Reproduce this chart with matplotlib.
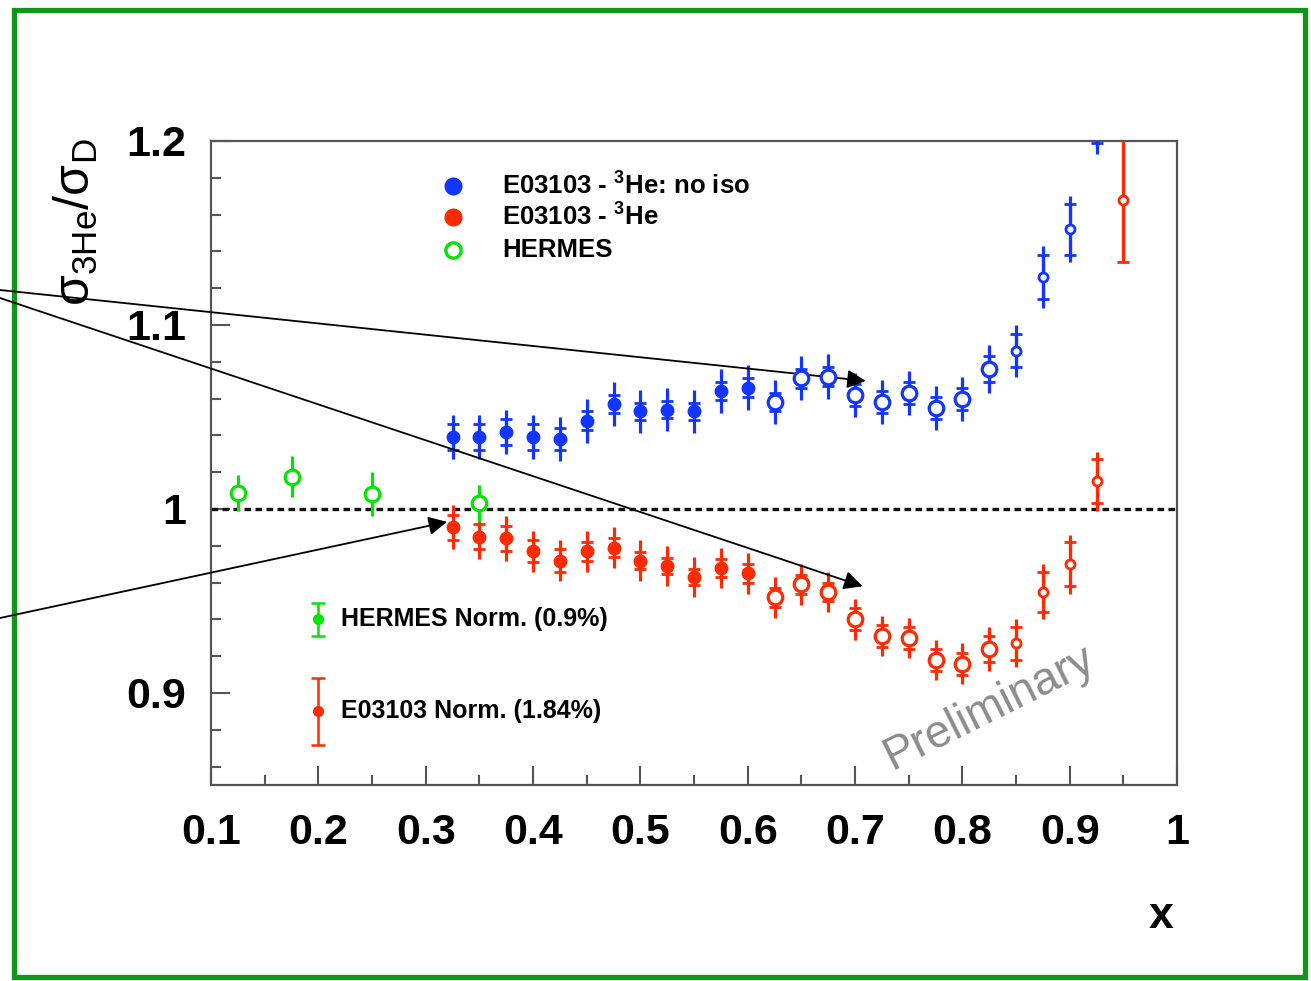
"""3He/D cross-section ratio vs x: E03103 (with and without isoscalar correction) and HERMES."""

import matplotlib
matplotlib.use("Agg")
import matplotlib.pyplot as plt
import numpy as np
from matplotlib.patches import Rectangle
from matplotlib.ticker import MultipleLocator

plt.rcParams["font.family"] = ["Liberation Sans", "DejaVu Sans"]
plt.rcParams["mathtext.default"] = "regular"

# --- data ---
x_e03103 = [0.325, 0.35, 0.375, 0.40, 0.425, 0.45, 0.475, 0.50, 0.525, 0.55, 0.575, 0.60, 0.625,
            0.65, 0.675, 0.70, 0.725, 0.75, 0.775, 0.80, 0.825, 0.85, 0.875, 0.90, 0.925, 0.95]

noiso_y = [1.039, 1.039, 1.042, 1.039, 1.038, 1.048, 1.057, 1.053, 1.054, 1.053, 1.064, 1.066, 1.058,
           1.071, 1.072, 1.062, 1.058, 1.063, 1.055, 1.060, 1.076, 1.086, 1.126, 1.152, 1.212]
noiso_stat = [0.007, 0.007, 0.007, 0.007, 0.006, 0.005, 0.005, 0.0045, 0.0045, 0.0045, 0.005, 0.005, 0.005,
              0.005, 0.005, 0.006, 0.006, 0.006, 0.006, 0.006, 0.007, 0.009, 0.012, 0.014, 0.013]
noiso_tot = [0.012, 0.012, 0.012, 0.012, 0.012, 0.012, 0.012, 0.0115, 0.0115, 0.0115, 0.012, 0.012, 0.012,
             0.012, 0.012, 0.012, 0.012, 0.012, 0.012, 0.012, 0.013, 0.014, 0.017, 0.018, 0.019]

he3_y = [0.990, 0.985, 0.984, 0.977, 0.972, 0.977, 0.979, 0.972, 0.969, 0.963, 0.968, 0.965, 0.952,
         0.959, 0.955, 0.940, 0.931, 0.930, 0.918, 0.916, 0.924, 0.927, 0.955, 0.970, 1.015, 1.168]
he3_stat = [0.007, 0.007, 0.007, 0.006, 0.006, 0.005, 0.005, 0.0045, 0.0045, 0.0045, 0.005, 0.005, 0.005,
            0.005, 0.005, 0.006, 0.006, 0.006, 0.006, 0.006, 0.007, 0.009, 0.011, 0.012, 0.012, 0.034]
he3_tot = [0.012, 0.012, 0.012, 0.011, 0.011, 0.011, 0.011, 0.011, 0.011, 0.011, 0.011, 0.011, 0.011,
           0.011, 0.011, 0.011, 0.011, 0.011, 0.011, 0.011, 0.012, 0.013, 0.015, 0.016, 0.016, 0.034]

hermes_x = [0.125, 0.175, 0.25, 0.35]
hermes_y = [1.0087, 1.0176, 1.008, 1.003]
hermes_err = [0.010, 0.011, 0.012, 0.010]

norm_x = 0.2
norm_y = [0.940, 0.890]
norm_err = [0.009, 0.0184]
norm_labels = ["HERMES Norm. (0.9%)", "E03103 Norm. (1.84%)"]

legend_labels = ["E03103 - $^{3}$He: no iso", "E03103 - $^{3}$He", "HERMES"]

xticks = [0.1, 0.2, 0.3, 0.4, 0.5, 0.6, 0.7, 0.8, 0.9, 1.0]
xtick_labels = ["0.1", "0.2", "0.3", "0.4", "0.5", "0.6", "0.7", "0.8", "0.9", "1"]
yticks = [0.9, 1.0, 1.1, 1.2]
ytick_labels = ["0.9", "1", "1.1", "1.2"]

BLUE = "#1236ff"
RED = "#ff2a00"
GREEN = "#00e600"


def draw_series(ax, x, y, stat, tot, color):
    x = np.asarray(x[:len(y)])
    y = np.asarray(y)
    ax.errorbar(x, y, yerr=tot, fmt="none", ecolor=color, elinewidth=2.3, zorder=3)
    ax.errorbar(x, y, yerr=stat, fmt="none", ecolor=color, elinewidth=2.3,
                capsize=4.3, capthick=2.0, zorder=3)
    filled = x <= 0.6
    big = (x > 0.6) & (x < 0.84)
    small = x >= 0.84
    ax.plot(x[filled], y[filled], "o", ms=9, color=color, zorder=4)
    ax.plot(x[big], y[big], "o", ms=10.5, mfc="white", mec=color, mew=2.3, zorder=4)
    ax.plot(x[small], y[small], "o", ms=6.5, mfc="white", mec=color, mew=2.0, zorder=4)


fig = plt.figure(figsize=(13.11, 9.81), dpi=100)
ax = fig.add_axes([211 / 1311, 1 - 785 / 981, 966 / 1311, 644 / 981])
ax.set_xlim(0.1, 1.0)
ax.set_ylim(0.85, 1.2)

ax.axhline(1.0, color="#111111", lw=2.4, ls=(0, (2.0, 1.3)), zorder=2)

draw_series(ax, x_e03103, noiso_y, noiso_stat, noiso_tot, BLUE)
draw_series(ax, x_e03103, he3_y, he3_stat, he3_tot, RED)

ax.errorbar(hermes_x, hermes_y, yerr=hermes_err, fmt="o", ms=10.5, mfc="white", mec=GREEN,
            mew=2.3, ecolor=GREEN, elinewidth=2.3, zorder=4)

# normalisation bars
for yy, err, col, lab in zip(norm_y, norm_err, [GREEN, RED], norm_labels):
    ax.errorbar([norm_x], [yy], yerr=[err], fmt="o", ms=7, color=col, elinewidth=1.8,
                capsize=5, capthick=1.8, zorder=4)
    ax.text(norm_x + 0.021, yy, lab, fontsize=18, fontweight="bold", ha="left", va="center")

# hand-drawn legend
leg_y = [1.1755, 1.1587, 1.1408]
ax.plot([0.325], [leg_y[0]], "o", ms=12, color=BLUE)
ax.plot([0.325], [leg_y[1]], "o", ms=12, color=RED)
ax.plot([0.325], [leg_y[2]], "o", ms=11, mfc="white", mec=GREEN, mew=2.4)
for yy, lab in zip(leg_y, legend_labels):
    ax.text(0.3715, yy, lab, fontsize=18.5, fontweight="bold", ha="left", va="center")

ax.text(0.8248, 0.892, "Preliminary", fontsize=33, color="#8c8c8c", rotation=26.5,
        ha="center", va="center")

# arrows from outside the frame
arrow_kw = dict(arrowstyle="-|>", lw=1.3, color="black", mutation_scale=28, shrinkA=0, shrinkB=0)
ax.annotate("", xy=(0.710, 1.0696), xycoords="data", xytext=(0.0, 1 - 290 / 981),
            textcoords="figure fraction", arrowprops=arrow_kw, annotation_clip=False)
ax.annotate("", xy=(0.707, 0.958), xycoords="data", xytext=(0.0, 1 - 298 / 981),
            textcoords="figure fraction", arrowprops=arrow_kw, annotation_clip=False)
ax.annotate("", xy=(0.320, 0.993), xycoords="data", xytext=(0.0, 1 - 618 / 981),
            textcoords="figure fraction", arrowprops=arrow_kw, annotation_clip=False)

# axes styling (ROOT look)
for side in ["left", "bottom", "top", "right"]:
    ax.spines[side].set_color("#555555")
    ax.spines[side].set_linewidth(1.6)
ax.set_xticks(xticks)
ax.set_xticklabels(xtick_labels)
ax.set_yticks(yticks)
ax.set_yticklabels(ytick_labels)
ax.xaxis.set_minor_locator(MultipleLocator(0.05))
ax.yaxis.set_minor_locator(MultipleLocator(0.02))
ax.tick_params(which="both", direction="in", color="#555555", width=1.5, top=False, right=False)
ax.tick_params(which="major", length=14)
ax.tick_params(which="minor", length=7)
ax.tick_params(axis="x", which="major", labelsize=31, pad=20)
ax.tick_params(axis="y", which="major", labelsize=31, pad=18)
for lab in ax.get_xticklabels() + ax.get_yticklabels():
    lab.set_fontweight("bold")

fig.text(1173 / 1311, 1 - 917 / 981, "x", fontsize=32, fontweight="bold", ha="right", va="center")
fig.text(76 / 1311, 1 - 222 / 981, r"$\sigma_{3He}/\sigma_{D}$", fontsize=36, rotation=90,
         ha="center", va="center")

# green slide frame
fig.add_artist(Rectangle((14 / 1311, 4 / 981), 1291 / 1311, 967 / 981, transform=fig.transFigure,
                         fill=False, edgecolor="#11961a", lw=3.8, zorder=0))

fig.savefig("out.png", dpi=100)
